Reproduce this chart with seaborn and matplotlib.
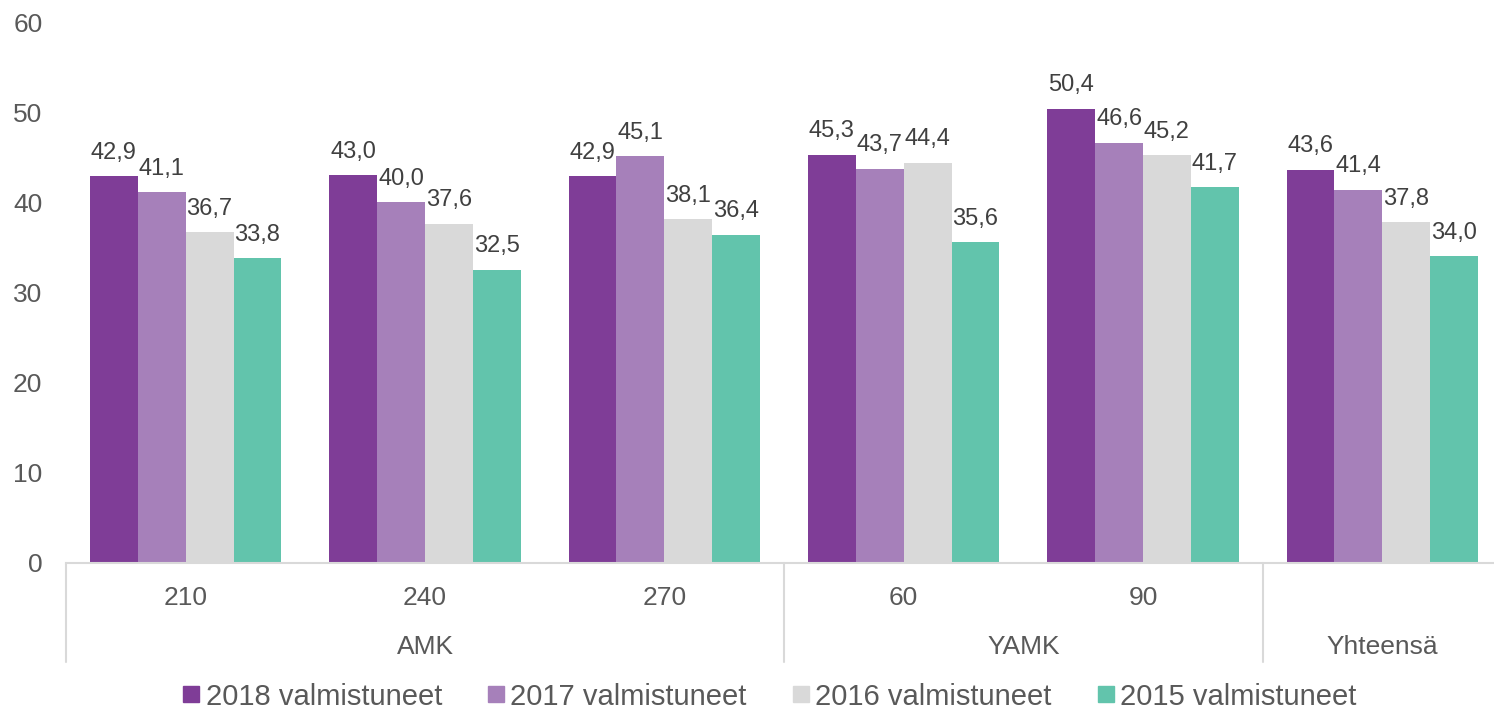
import seaborn as sns
import matplotlib.pyplot as plt
import pandas as pd
import numpy as np
from matplotlib.lines import Line2D

# chart data
groups = ['AMK', 'AMK', 'AMK', 'YAMK', 'YAMK', 'Yhteensä']
subcats = ['210', '240', '270', '60', '90', '']
seriesNames = ['2018 valmistuneet', '2017 valmistuneet', '2016 valmistuneet', '2015 valmistuneet']
v2018 = [42.9, 43.0, 42.9, 45.3, 50.4, 43.6]
v2017 = [41.1, 40.0, 45.1, 43.7, 46.6, 41.4]
v2016 = [36.7, 37.6, 38.1, 44.4, 45.2, 37.8]
v2015 = [33.8, 32.5, 36.4, 35.6, 41.7, 34.0]
colors = ['#7F3D97', '#A680BA', '#D9D9D9', '#62C4AC']

# long form table for seaborn
keys = [g + ' ' + s for g, s in zip(groups, subcats)]
rows = []
for name, vals in zip(seriesNames, [v2018, v2017, v2016, v2015]):
    for k, v in zip(keys, vals):
        rows.append({'cat': k, 'series': name, 'value': v})
df = pd.DataFrame(rows)

sns.set_style('white')
plt.rcParams['font.family'] = ['Liberation Sans', 'DejaVu Sans']

fig = plt.figure(figsize=(14.94, 7.13), dpi=100)
ax = fig.add_axes([66/1494, 1-563/713, (1502-66)/1494, 541/713])

sns.barplot(data=df, x='cat', y='value', hue='series', order=keys, hue_order=seriesNames,
            palette=colors, saturation=1, width=0.8, linewidth=0, legend=False, ax=ax)

#data labels with decimal comma
for cont in ax.containers:
    labs = [f'{b.get_height():.1f}'.replace('.', ',') for b in cont]
    ax.bar_label(cont, labels=labs, padding=9, fontsize=17, color='#404040')

ax.set_ylim(0, 60)
ax.set_xlim(-0.5, 5.5)
ax.set_yticks(np.arange(0, 61, 10))
ax.set_xticks(range(len(keys)))
ax.set_xticklabels(subcats)
ax.tick_params(axis='x', length=0, pad=16.5, labelsize=19, labelcolor='#595959')
ax.tick_params(axis='y', length=0, pad=17, labelsize=19, labelcolor='#595959')
ax.set_xlabel('')
ax.set_ylabel('')

for side in ['left', 'right', 'top']:
    ax.spines[side].set_visible(False)
ax.spines['bottom'].set_color('#D9D9D9')
ax.spines['bottom'].set_linewidth(1.5)

#group separators and group labels
trans = ax.get_xaxis_transform()
for xs in [-0.5, 2.5, 4.5]:
    ax.plot([xs, xs], [0, -0.183], transform=trans, clip_on=False, color='#D9D9D9', lw=1.5)
for name, xc in [('AMK', 1), ('YAMK', 3.5), ('Yhteensä', 5)]:
    ax.text(xc, -0.155, name, transform=trans, ha='center', va='center', fontsize=19, color='#595959')

handles = [Line2D([], [], marker='s', linestyle='none', markersize=11, color=c) for c in colors]
fig.legend(handles, seriesNames, loc='center', bbox_to_anchor=(0.515, 0.023), ncol=4, frameon=False,
           fontsize=21, labelcolor='#595959', handlelength=0.6, handletextpad=0.2, columnspacing=1.55,
           borderpad=0.1)

plt.savefig('out.png', dpi=100)
